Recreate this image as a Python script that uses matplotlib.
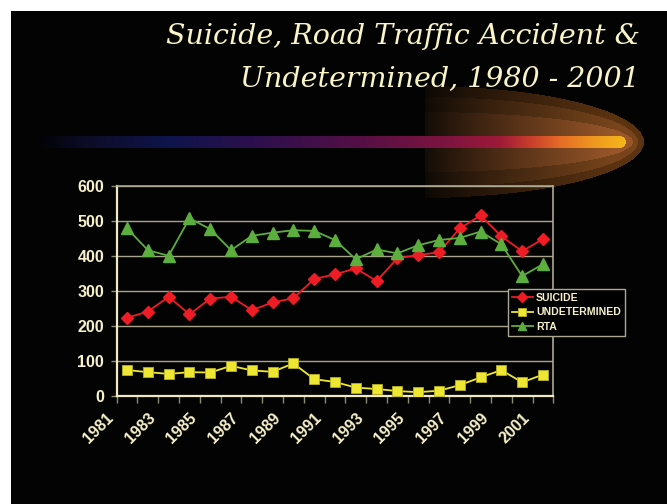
import numpy as np
import matplotlib
matplotlib.use("Agg")
import matplotlib.pyplot as plt

years = list(range(1981, 2002))
suicide = [223, 241, 283, 233, 278, 283, 245, 267, 279, 334, 347, 364,
           328, 393, 402, 410, 478, 515, 456, 413, 448]
undetermined = [74, 68, 63, 68, 67, 86, 73, 69, 93, 48, 40, 24,
                20, 14, 11, 15, 31, 53, 74, 39, 61]
rta = [478, 416, 400, 507, 476, 416, 457, 466, 473, 471, 445, 390,
       418, 407, 430, 445, 451, 469, 433, 342, 376]
series_names = ["SUICIDE", "UNDETERMINED", "RTA"]
yticks = [0, 100, 200, 300, 400, 500, 600]
title_lines = ["Suicide, Road Traffic Accident &", "Undetermined, 1980 - 2001"]

W, H = 667, 504
fig = plt.figure(figsize=(W / 100, H / 100), dpi=100)

# ---------- background (white margin, black slide, comet decoration) ----------
img = np.zeros((H, W, 3))
img[:, :] = 0.012
img[:11, :] = 1.0
img[:, :11] = 1.0
X, Y = np.meshgrid(np.arange(W) + 0.5, np.arange(H) + 0.5)
cy = 142.0
layers = [  # cx, a, b, colour
    (420, 224, 56, (0.36, 0.20, 0.07)),
    (420, 218, 45, (0.47, 0.27, 0.11)),
    (420, 213, 30, (0.60, 0.34, 0.16)),
]
g = np.clip((X - 425) / 190.0, 0, 1)
fade = np.where(X >= 425, 0.10 + 0.90 * g ** 0.9, 0.0)
for cx, a, b, col in layers:
    inside = ((X - cx) / a) ** 2 + ((Y - cy) / b) ** 2 < 1
    inside &= X >= 425
    for c in range(3):
        img[..., c] = np.where(inside, col[c] * fade + 0.012 * (1 - fade), img[..., c])
# comet bar
xs = [40, 90, 170, 260, 360, 450, 500, 530, 560, 595, 626]
cr = [0.01, 0.05, 0.06, 0.18, 0.33, 0.50, 0.62, 0.78, 0.90, 0.94, 0.96]
cg = [0.01, 0.05, 0.08, 0.06, 0.06, 0.08, 0.10, 0.24, 0.42, 0.60, 0.72]
cb = [0.03, 0.16, 0.30, 0.30, 0.27, 0.25, 0.22, 0.17, 0.15, 0.12, 0.10]
bar = (np.abs(Y - cy) < 6) & (X >= 40) & (X <= 620)
bar |= ((X - 620) ** 2 + (Y - cy) ** 2 < 36) & (X > 620)
for c, ch in enumerate([cr, cg, cb]):
    img[..., c] = np.where(bar, np.interp(X, xs, ch), img[..., c])

ax_bg = fig.add_axes([0, 0, 1, 1])
ax_bg.imshow(img, extent=(0, W, H, 0), aspect="auto", interpolation="bilinear")
ax_bg.set_xlim(0, W)
ax_bg.set_ylim(H, 0)
ax_bg.axis("off")

# ---------- title ----------
cream = "#F6F1C8"
for line, base in zip(title_lines, [44, 86]):
    fig.text(640 / W, 1 - base / H, line, ha="right", va="baseline",
             fontsize=20.5, style="italic", family="DejaVu Serif", color="#FAF5C6")

# ---------- chart ----------
ax = fig.add_axes([116.7 / W, 1 - 396 / H, (553.3 - 116.7) / W, (396 - 185.7) / H])
ax.set_facecolor("none")
xpos = np.arange(len(years))
ax.plot(xpos, suicide, color="#EE1C25", lw=1.3, marker="D", ms=6.3,
        mec="#EE1C25", label=series_names[0], zorder=4)
ax.plot(xpos, undetermined, color="#EDE734", lw=1.3, marker="s", ms=7,
        mec="#B8B020", mew=0.6, label=series_names[1], zorder=4)
ax.plot(xpos, rta, color="#5CAE3E", lw=1.3, marker="^", ms=8.5,
        mec="#5CAE3E", label=series_names[2], zorder=4)

ax.set_xlim(-0.5, len(years) - 0.5)
ax.set_ylim(0, 600)
ax.set_yticks(yticks)
ax.set_yticklabels([str(v) for v in yticks])
ax.yaxis.grid(True, color="#A8A38C", lw=1.0)
ax.set_axisbelow(True)

label_idx = list(range(0, len(years), 2))
ax.set_xticks([i - 0.5 for i in label_idx])
ax.set_xticklabels([str(years[i]) for i in label_idx], rotation=45,
                   ha="right", va="bottom", rotation_mode="anchor")
ax.set_xticks(np.arange(-0.5, len(years)), minor=True)
ax.tick_params(axis="x", which="both", length=5, color="#8E8A78", width=1,
               direction="out", pad=13)
ax.tick_params(axis="y", length=4.5, color="#8E8A78", width=1, direction="out", pad=4.5)
for lab in ax.get_xticklabels() + ax.get_yticklabels():
    lab.set_fontfamily("Liberation Sans")
    lab.set_fontweight("bold")
    lab.set_fontsize(11.5)
    lab.set_color(cream)
for s in ["left", "bottom"]:
    ax.spines[s].set_color("#EFE9C4")
    ax.spines[s].set_linewidth(1.6)
for s in ["top", "right"]:
    ax.spines[s].set_color("#ADA891")
    ax.spines[s].set_linewidth(1.2)

leg = ax.legend(loc="upper left", bbox_to_anchor=(508 / W, 1 - 289 / H),
                bbox_transform=fig.transFigure, borderaxespad=0,
                frameon=True, fancybox=False, facecolor="black",
                edgecolor="#ADA891", framealpha=1,
                prop={"family": "Liberation Sans", "weight": "bold", "size": 7.6},
                handlelength=2.0, handletextpad=0.3, labelspacing=0.45,
                borderpad=0.35, markerscale=0.75)
leg.get_frame().set_linewidth(1.0)
for t in leg.get_texts():
    t.set_color(cream)

fig.savefig("out.png", dpi=100, facecolor="white")
